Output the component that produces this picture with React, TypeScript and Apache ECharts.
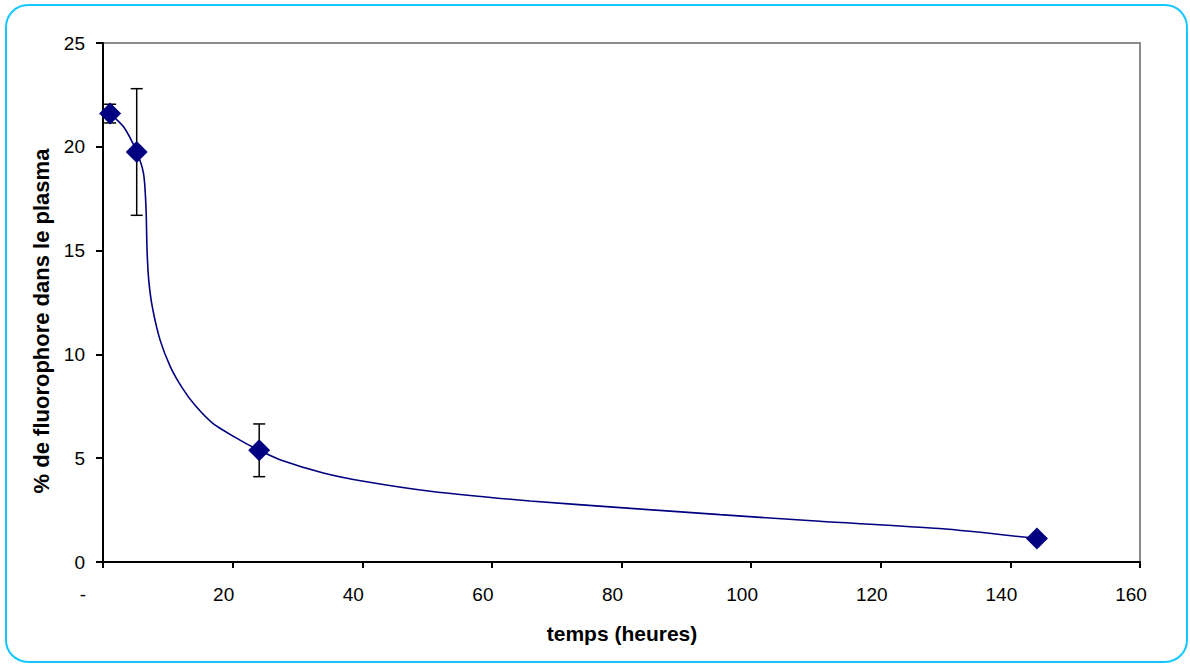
import React, { useEffect, useRef } from "react";
import * as echarts from "echarts";

// Measured points (time in hours, % of fluorophore in plasma)
const timeHours = [1.1, 5.2, 24.1, 144.1];
const percentPlasma = [21.6, 19.75, 5.38, 1.13];
const errorPlus = [0.45, 3.05, 1.27, 0];

// Smoothed trend curve
const curveX = [1.1, 3.2, 5.2, 6.26, 6.63, 6.8, 7.05, 7.6, 8.8, 10.4, 12.2, 14.2, 17.0, 21.2, 24.1, 27.3, 34.0, 40.2, 50.5, 65.9, 79.8, 95.2, 110.6, 129.1, 144.1];
const curveY = [21.6, 20.95, 19.75, 18.7, 17.1, 15.0, 13.6, 12.3, 10.7, 9.4, 8.4, 7.55, 6.67, 5.86, 5.38, 4.93, 4.29, 3.89, 3.41, 2.94, 2.62, 2.28, 1.96, 1.61, 1.13];

const xTitle = "temps (heures)";
const yTitle = "% de fluorophore dans le plasma";

export default function App() {
  const ref = useRef<HTMLDivElement>(null);
  useEffect(() => {
    if (!ref.current) return;
    const chart = echarts.init(ref.current, undefined, { renderer: "svg" });
    const font = "'Liberation Sans', Arial, sans-serif";
    const points = timeHours.map((t, i) => [t, percentPlasma[i]]);
    const curve = curveX.map((t, i) => [t, curveY[i]]);
    const errs = timeHours.map((t, i) => [t, percentPlasma[i] - errorPlus[i], percentPlasma[i] + errorPlus[i]]).filter((_, i) => errorPlus[i] > 0);
    chart.setOption({
      animation: false,
      backgroundColor: "#ffffff",
      grid: {
        left: 103,
        top: 43,
        right: 50,
        bottom: 104,
        show: true,
        borderColor: "#8c8c8c",
        borderWidth: 2,
        backgroundColor: "transparent",
      },
      xAxis: {
        type: "value",
        min: 0,
        max: 160,
        interval: 20,
        splitLine: { show: false },
        axisLine: { show: true, lineStyle: { color: "#000", width: 2 } },
        axisTick: { show: true, length: 6, lineStyle: { color: "#000", width: 2 } },
        axisLabel: {
          color: "#000",
          fontFamily: font,
          fontSize: 19,
          margin: 23,
          formatter: (v: number) => (v === 0 ? "{z|-}" : "{n|" + v + "}"),
          rich: {
            z: { fontFamily: font, fontSize: 19, color: "#000", padding: [0, 40, 0, 0] },
            n: { fontFamily: font, fontSize: 19, color: "#000", padding: [0, 18, 0, 0] },
          },
        },
      },
      yAxis: {
        type: "value",
        min: 0,
        max: 25,
        interval: 5,
        splitLine: { show: false },
        axisLine: { show: true, lineStyle: { color: "#000", width: 2 } },
        axisTick: { show: true, length: 7, lineStyle: { color: "#000", width: 2 } },
        axisLabel: { color: "#000", fontFamily: font, fontSize: 19, margin: 18 },
      },
      graphic: [
        {
          type: "rect",
          shape: { x: 6, y: 5, width: 1181, height: 657, r: 22 },
          style: { fill: "none", stroke: "#14c8ff", lineWidth: 2 },
          silent: true,
        },
        {
          type: "text",
          x: 622,
          y: 633,
          style: {
            text: xTitle,
            fontFamily: font,
            fontWeight: "bold",
            fontSize: 21,
            fill: "#000",
            align: "center",
            verticalAlign: "middle",
          },
        },
        {
          type: "text",
          x: 41,
          y: 321,
          rotation: Math.PI / 2,
          style: {
            text: yTitle,
            fontFamily: font,
            fontWeight: "bold",
            fontSize: 22,
            fill: "#000",
            align: "center",
            verticalAlign: "middle",
          },
        },
      ],
      series: [
        {
          type: "custom",
          name: "erreur",
          z: 2,
          data: errs,
          renderItem: (params: any, api: any) => {
            const x = api.value(0);
            const lo = api.coord([x, api.value(1)]);
            const hi = api.coord([x, api.value(2)]);
            const hw = 6;
            const st = { stroke: "#000", lineWidth: 1.5 };
            return {
              type: "group",
              children: [
                { type: "line", shape: { x1: lo[0], y1: lo[1], x2: hi[0], y2: hi[1] }, style: st },
                { type: "line", shape: { x1: lo[0] - hw, y1: lo[1], x2: lo[0] + hw, y2: lo[1] }, style: st },
                { type: "line", shape: { x1: hi[0] - hw, y1: hi[1], x2: hi[0] + hw, y2: hi[1] }, style: st },
              ],
            };
          },
        },
        {
          type: "line",
          name: "courbe",
          z: 3,
          data: curve,
          smooth: 0.25,
          showSymbol: false,
          symbol: "none",
          lineStyle: { color: "#000080", width: 1.6 },
        },
        {
          type: "scatter",
          name: "mesures",
          z: 4,
          data: points,
          symbol: "diamond",
          symbolSize: [22, 22],
          itemStyle: { color: "#000080", opacity: 1 },
        },
      ],
    });
    return () => chart.dispose();
  }, []);
  return (
    <div
      ref={ref}
      style={{ position: "fixed", left: 0, top: 0, width: 1190, height: 666, background: "#fff" }}
    />
  );
}
